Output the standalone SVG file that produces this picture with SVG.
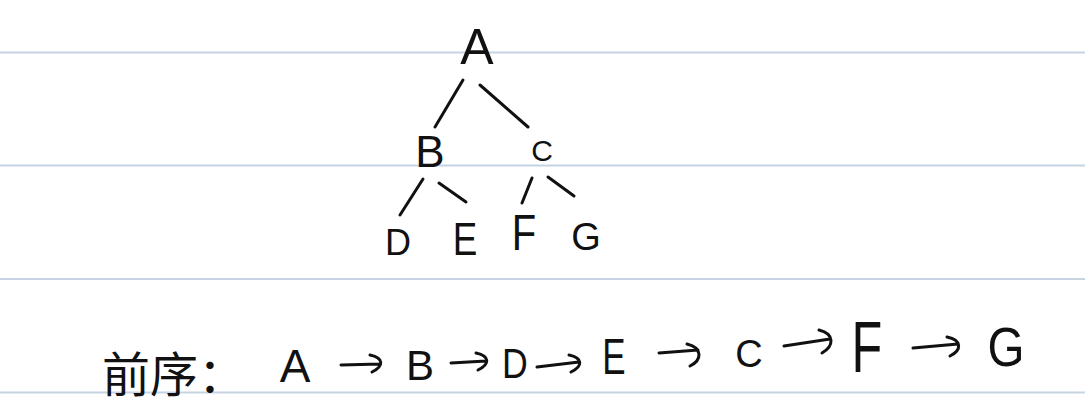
<svg xmlns="http://www.w3.org/2000/svg" width="1085" height="407" viewBox="0 0 1085 407">
<style>
.rule{stroke:#c6d3e3;stroke-width:2}
.t{font-family:"Liberation Sans","DejaVu Sans",sans-serif;fill:#111;text-anchor:middle}
.cjk{font-family:"Noto Sans CJK SC","Noto Sans CJK JP",sans-serif;fill:#111}
.e{stroke:#111;stroke-width:3;stroke-linecap:round;stroke-linejoin:round;fill:none}
</style>
<rect width="1085" height="407" fill="#ffffff"/>
<g id="rules">
<line class="rule" x1="0" y1="52.5" x2="1085" y2="52.5"/>
<line class="rule" x1="0" y1="165.5" x2="1085" y2="165.5"/>
<line class="rule" x1="0" y1="279" x2="1085" y2="279"/>
<line class="rule" x1="0" y1="392.5" x2="1085" y2="392.5"/>
</g>
<g id="connectors">
<line class="e" x1="463" y1="80" x2="435" y2="127"/>
<line class="e" x1="480" y1="85" x2="528" y2="127"/>
<line class="e" x1="423" y1="179" x2="400" y2="215"/>
<line class="e" x1="439" y1="183" x2="466" y2="202"/>
<line class="e" x1="532" y1="178" x2="522" y2="203"/>
<line class="e" x1="548" y1="177" x2="574" y2="196"/>
</g>
<g id="node-A"><text class="t" x="477" y="64" font-size="50">A</text></g>
<g id="node-B"><text class="t" x="430" y="167" font-size="44">B</text></g>
<g id="node-C"><text class="t" x="542" y="161" font-size="30">C</text></g>
<g id="node-D"><text class="t" x="398" y="255" font-size="36">D</text></g>
<g id="node-E"><text class="t" transform="translate(465 255) scale(0.8 1)" font-size="46">E</text></g>
<g id="node-F"><text class="t" transform="translate(524 250) scale(0.8 1)" font-size="50">F</text></g>
<g id="node-G"><text class="t" x="586" y="250" font-size="38">G</text></g>
<g id="sequence">
<text class="cjk" x="102" y="392" font-size="48">前序：</text>
<text class="t" x="295" y="382" font-size="46">A</text>
<text class="t" x="420" y="380" font-size="42">B</text>
<text class="t" transform="translate(515 378) scale(0.85 1)" font-size="42">D</text>
<text class="t" transform="translate(614 374) scale(0.7 1)" font-size="50">E</text>
<text class="t" x="749" y="367" font-size="38">C</text>
<text class="t" transform="translate(867 372) scale(0.7 1)" font-size="72">F</text>
<text class="t" transform="translate(1006 366) scale(0.85 1)" font-size="56">G</text>
<path class="e" d="M341 365 L380 364 M370 355 C384 358 384 366 372 372"/>
<path class="e" d="M451 363 L486 361 M476 353 C490 356 490 364 478 370"/>
<path class="e" d="M537 367 L579 362 M569 355 C583 358 583 366 571 372"/>
<path class="e" d="M659 353 L698 350 M687 344 C703 348 702 360 690 366"/>
<path class="e" d="M784 346 L830 339 M819 330 C835 334 834 346 822 353"/>
<path class="e" d="M913 348 L958 344 M947 337 C962 340 962 350 950 356"/>
</g>
</svg>
